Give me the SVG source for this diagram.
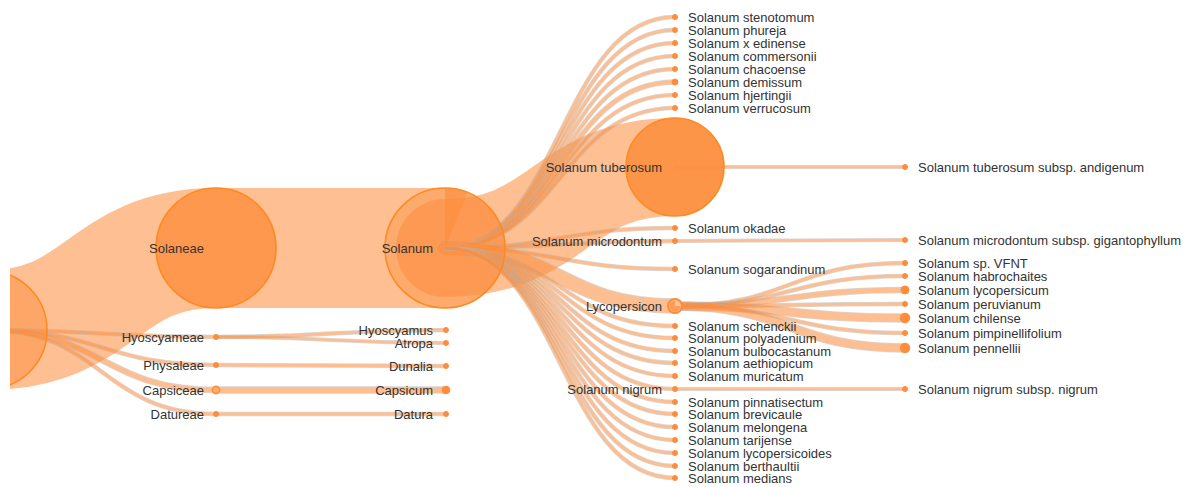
<svg xmlns="http://www.w3.org/2000/svg" width="1189" height="487" viewBox="0 0 1189 487">
<style>
.lk{opacity:0.56}
.lk path{fill:none;stroke-linecap:round}
.e{stroke:#b8b8b8}
.f{stroke:#fd8d3c}
.big{fill:#fd8d3c;stroke:#fd8a22;stroke-width:1.6}
.dot{fill:#fd8d3c;stroke:#fd8d3c;stroke-width:1}
text{font-family:"Liberation Sans",Arial,sans-serif;font-size:13px;fill:#333}
.l{text-anchor:end}
</style>
<defs><clipPath id="clip"><rect x="10" y="0" width="1179" height="487"/></clipPath></defs>
<rect width="1189" height="487" fill="#fff"/>
<g id="connectors" clip-path="url(#clip)">
<g class="lk"><path class="f" stroke-width="120" d="M-12,330 C102,330 102,248 216,248"/></g>
<g class="lk"><path class="e" stroke-width="4.5" d="M-12,330 C102,330 102,337 216,337"/><path class="f" stroke-width="3" d="M-12,330 C102,330 102,337 216,337"/></g>
<g class="lk"><path class="e" stroke-width="4.5" d="M-12,330 C102,330 102,365 216,365"/><path class="f" stroke-width="3" d="M-12,330 C102,330 102,365 216,365"/></g>
<g class="lk"><path class="e" stroke-width="6.5" d="M-12,330 C102,330 102,390 216,390"/><path class="f" stroke-width="5" d="M-12,330 C102,330 102,390 216,390"/></g>
<g class="lk"><path class="e" stroke-width="4.5" d="M-12,330 C102,330 102,414 216,414"/><path class="f" stroke-width="3" d="M-12,330 C102,330 102,414 216,414"/></g>
<g class="lk"><path class="f" stroke-width="120" d="M216,248 C330,248 330,248 445,248"/></g>
<g class="lk"><path class="e" stroke-width="4.5" d="M216,337 C331,337 331,330 446,330"/><path class="f" stroke-width="3" d="M216,337 C331,337 331,330 446,330"/></g>
<g class="lk"><path class="e" stroke-width="4" d="M216,337 C331,337 331,343 446,343"/><path class="f" stroke-width="2.5" d="M216,337 C331,337 331,343 446,343"/></g>
<g class="lk"><path class="e" stroke-width="4.5" d="M216,365 C331,365 331,366 446,366"/><path class="f" stroke-width="3" d="M216,365 C331,365 331,366 446,366"/></g>
<g class="lk"><path class="e" stroke-width="7.5" d="M216,390 C331,390 331,390 446,390"/><path class="f" stroke-width="6" d="M216,390 C331,390 331,390 446,390"/></g>
<g class="lk"><path class="e" stroke-width="4.5" d="M216,414 C331,414 331,414 446,414"/><path class="f" stroke-width="3" d="M216,414 C331,414 331,414 446,414"/></g>
<g class="lk"><path class="f" stroke-width="98" d="M445,248 C560,248 560,167 675,167"/></g>
<g class="lk"><path class="e" stroke-width="4.5" d="M445,248 C560,248 560,17 675,17"/><path class="f" stroke-width="3" d="M445,248 C560,248 560,17 675,17"/></g>
<g class="lk"><path class="e" stroke-width="4.5" d="M445,248 C560,248 560,30 675,30"/><path class="f" stroke-width="3" d="M445,248 C560,248 560,30 675,30"/></g>
<g class="lk"><path class="e" stroke-width="4.5" d="M445,248 C560,248 560,43 675,43"/><path class="f" stroke-width="3" d="M445,248 C560,248 560,43 675,43"/></g>
<g class="lk"><path class="e" stroke-width="4.5" d="M445,248 C560,248 560,56 675,56"/><path class="f" stroke-width="3" d="M445,248 C560,248 560,56 675,56"/></g>
<g class="lk"><path class="e" stroke-width="4.5" d="M445,248 C560,248 560,69 675,69"/><path class="f" stroke-width="3" d="M445,248 C560,248 560,69 675,69"/></g>
<g class="lk"><path class="e" stroke-width="5.5" d="M445,248 C560,248 560,82 675,82"/><path class="f" stroke-width="4" d="M445,248 C560,248 560,82 675,82"/></g>
<g class="lk"><path class="e" stroke-width="4.5" d="M445,248 C560,248 560,95 675,95"/><path class="f" stroke-width="3" d="M445,248 C560,248 560,95 675,95"/></g>
<g class="lk"><path class="e" stroke-width="4.5" d="M445,248 C560,248 560,108 675,108"/><path class="f" stroke-width="3" d="M445,248 C560,248 560,108 675,108"/></g>
<g class="lk"><path class="e" stroke-width="4.5" d="M445,248 C560,248 560,228 675,228"/><path class="f" stroke-width="3" d="M445,248 C560,248 560,228 675,228"/></g>
<g class="lk"><path class="e" stroke-width="4.5" d="M445,248 C560,248 560,241 675,241"/><path class="f" stroke-width="3" d="M445,248 C560,248 560,241 675,241"/></g>
<g class="lk"><path class="e" stroke-width="4.5" d="M445,248 C560,248 560,269 675,269"/><path class="f" stroke-width="3" d="M445,248 C560,248 560,269 675,269"/></g>
<g class="lk"><path class="e" stroke-width="15.5" d="M445,248 C560,248 560,306 675,306"/><path class="f" stroke-width="14" d="M445,248 C560,248 560,306 675,306"/></g>
<g class="lk"><path class="e" stroke-width="4.5" d="M445,248 C560,248 560,326 675,326"/><path class="f" stroke-width="3" d="M445,248 C560,248 560,326 675,326"/></g>
<g class="lk"><path class="e" stroke-width="4.5" d="M445,248 C560,248 560,338 675,338"/><path class="f" stroke-width="3" d="M445,248 C560,248 560,338 675,338"/></g>
<g class="lk"><path class="e" stroke-width="4.5" d="M445,248 C560,248 560,351 675,351"/><path class="f" stroke-width="3" d="M445,248 C560,248 560,351 675,351"/></g>
<g class="lk"><path class="e" stroke-width="4.5" d="M445,248 C560,248 560,363 675,363"/><path class="f" stroke-width="3" d="M445,248 C560,248 560,363 675,363"/></g>
<g class="lk"><path class="e" stroke-width="4.5" d="M445,248 C560,248 560,376 675,376"/><path class="f" stroke-width="3" d="M445,248 C560,248 560,376 675,376"/></g>
<g class="lk"><path class="e" stroke-width="4.5" d="M445,248 C560,248 560,389 675,389"/><path class="f" stroke-width="3" d="M445,248 C560,248 560,389 675,389"/></g>
<g class="lk"><path class="e" stroke-width="4.5" d="M445,248 C560,248 560,402 675,402"/><path class="f" stroke-width="3" d="M445,248 C560,248 560,402 675,402"/></g>
<g class="lk"><path class="e" stroke-width="4.5" d="M445,248 C560,248 560,414 675,414"/><path class="f" stroke-width="3" d="M445,248 C560,248 560,414 675,414"/></g>
<g class="lk"><path class="e" stroke-width="4.5" d="M445,248 C560,248 560,427 675,427"/><path class="f" stroke-width="3" d="M445,248 C560,248 560,427 675,427"/></g>
<g class="lk"><path class="e" stroke-width="4.5" d="M445,248 C560,248 560,440 675,440"/><path class="f" stroke-width="3" d="M445,248 C560,248 560,440 675,440"/></g>
<g class="lk"><path class="e" stroke-width="4.5" d="M445,248 C560,248 560,453 675,453"/><path class="f" stroke-width="3" d="M445,248 C560,248 560,453 675,453"/></g>
<g class="lk"><path class="e" stroke-width="4.5" d="M445,248 C560,248 560,466 675,466"/><path class="f" stroke-width="3" d="M445,248 C560,248 560,466 675,466"/></g>
<g class="lk"><path class="e" stroke-width="4.5" d="M445,248 C560,248 560,478 675,478"/><path class="f" stroke-width="3" d="M445,248 C560,248 560,478 675,478"/></g>
<g class="lk"><path class="e" stroke-width="4" d="M675,167 C790,167 790,167 905,167"/><path class="f" stroke-width="2.5" d="M675,167 C790,167 790,167 905,167"/></g>
<g class="lk"><path class="e" stroke-width="4" d="M675,241 C790,241 790,240 905,240"/><path class="f" stroke-width="2.5" d="M675,241 C790,241 790,240 905,240"/></g>
<g class="lk"><path class="e" stroke-width="4.5" d="M675,306 C790,306 790,263 905,263"/><path class="f" stroke-width="3" d="M675,306 C790,306 790,263 905,263"/></g>
<g class="lk"><path class="e" stroke-width="4.5" d="M675,306 C790,306 790,276 905,276"/><path class="f" stroke-width="3" d="M675,306 C790,306 790,276 905,276"/></g>
<g class="lk"><path class="e" stroke-width="6.5" d="M675,306 C790,306 790,290 905,290"/><path class="f" stroke-width="5" d="M675,306 C790,306 790,290 905,290"/></g>
<g class="lk"><path class="e" stroke-width="4.5" d="M675,306 C790,306 790,304 905,304"/><path class="f" stroke-width="3" d="M675,306 C790,306 790,304 905,304"/></g>
<g class="lk"><path class="e" stroke-width="9.5" d="M675,306 C790,306 790,318 905,318"/><path class="f" stroke-width="8" d="M675,306 C790,306 790,318 905,318"/></g>
<g class="lk"><path class="e" stroke-width="4.5" d="M675,306 C790,306 790,333 905,333"/><path class="f" stroke-width="3" d="M675,306 C790,306 790,333 905,333"/></g>
<g class="lk"><path class="e" stroke-width="9.5" d="M675,306 C790,306 790,348 905,348"/><path class="f" stroke-width="8" d="M675,306 C790,306 790,348 905,348"/></g>
<g class="lk"><path class="e" stroke-width="4" d="M675,389 C790,389 790,389 905,389"/><path class="f" stroke-width="2.5" d="M675,389 C790,389 790,389 905,389"/></g>
</g>
<g id="root" clip-path="url(#clip)"><circle class="big" cx="-12" cy="330" r="59" fill-opacity="0.5"/></g>
<g id="solaneae"><circle class="big" cx="216" cy="248" r="60" fill-opacity="0.5"/><text class="l" x="204" y="252.5">Solaneae</text></g>
<g id="hyoscyameae"><circle class="dot" cx="216" cy="337" r="2.5"/><text class="l" x="204" y="341.5">Hyoscyameae</text></g>
<g id="physaleae"><circle class="dot" cx="216" cy="365" r="2.5"/><text class="l" x="204" y="369.5">Physaleae</text></g>
<g id="capsiceae"><circle cx="216" cy="390" r="3.6" fill="#fdb06e" stroke="#fd8d3c" stroke-width="1.6"/><text class="l" x="204" y="394.5">Capsiceae</text></g>
<g id="datureae"><circle class="dot" cx="216" cy="414" r="2.5"/><text class="l" x="204" y="418.5">Datureae</text></g>
<g id="solanum"><circle class="big" cx="445" cy="248" r="60" fill-opacity="0.42"/><path d="M445,248 L445,188 A60,60 0 0,1 467.5,192.4 Z" fill="#fd8d3c" fill-opacity="0.6"/><text class="l" x="433" y="252.5">Solanum</text></g>
<g id="hyoscyamus"><circle class="dot" cx="446" cy="330" r="2.5"/><text class="l" x="433" y="334.5">Hyoscyamus</text></g>
<g id="atropa"><circle class="dot" cx="446" cy="343" r="2.5"/><text class="l" x="433" y="347.5">Atropa</text></g>
<g id="dunalia"><circle class="dot" cx="446" cy="366" r="2.5"/><text class="l" x="433" y="370.5">Dunalia</text></g>
<g id="capsicum"><circle class="dot" cx="446" cy="390" r="3.8"/><text class="l" x="433" y="394.5">Capsicum</text></g>
<g id="datura"><circle class="dot" cx="446" cy="414" r="2.5"/><text class="l" x="433" y="418.5">Datura</text></g>
<g id="s-stenotomum"><circle class="dot" cx="675" cy="17" r="2.5"/><text x="688" y="21.5">Solanum stenotomum</text></g>
<g id="s-phureja"><circle class="dot" cx="675" cy="30" r="2.5"/><text x="688" y="34.5">Solanum phureja</text></g>
<g id="s-edinense"><circle class="dot" cx="675" cy="43" r="2.5"/><text x="688" y="47.5">Solanum x edinense</text></g>
<g id="s-commersonii"><circle class="dot" cx="675" cy="56" r="2.5"/><text x="688" y="60.5">Solanum commersonii</text></g>
<g id="s-chacoense"><circle class="dot" cx="675" cy="69" r="2.5"/><text x="688" y="73.5">Solanum chacoense</text></g>
<g id="s-demissum"><circle class="dot" cx="675" cy="82" r="3"/><text x="688" y="86.5">Solanum demissum</text></g>
<g id="s-hjertingii"><circle class="dot" cx="675" cy="95" r="2.5"/><text x="688" y="99.5">Solanum hjertingii</text></g>
<g id="s-verrucosum"><circle class="dot" cx="675" cy="108" r="2.5"/><text x="688" y="112.5">Solanum verrucosum</text></g>
<g id="s-tuberosum"><circle class="big" cx="675" cy="167" r="49" fill-opacity="0.85"/><text class="l" x="662" y="171.5">Solanum tuberosum</text></g>
<g id="s-okadae"><circle class="dot" cx="675" cy="228" r="2.5"/><text x="688" y="232.5">Solanum okadae</text></g>
<g id="s-microdontum"><circle class="dot" cx="675" cy="241" r="2.5"/><text class="l" x="662" y="245.5">Solanum microdontum</text></g>
<g id="s-sogarandinum"><circle class="dot" cx="675" cy="269" r="2.5"/><text x="688" y="273.5">Solanum sogarandinum</text></g>
<g id="lycopersicon"><circle cx="675" cy="306" r="7" fill="#fdc597" stroke="#fd8d3c" stroke-width="2"/><path d="M675,306 L675,300.5 A5.5,5.5 0 1,0 680.5,306 Z" fill="#fd8d3c" fill-opacity="0.75"/><text class="l" x="662" y="310.5">Lycopersicon</text></g>
<g id="s-schenckii"><circle class="dot" cx="675" cy="326" r="2.5"/><text x="688" y="330.5">Solanum schenckii</text></g>
<g id="s-polyadenium"><circle class="dot" cx="675" cy="338" r="2.5"/><text x="688" y="342.5">Solanum polyadenium</text></g>
<g id="s-bulbocastanum"><circle class="dot" cx="675" cy="351" r="2.5"/><text x="688" y="355.5">Solanum bulbocastanum</text></g>
<g id="s-aethiopicum"><circle class="dot" cx="675" cy="363" r="2.5"/><text x="688" y="367.5">Solanum aethiopicum</text></g>
<g id="s-muricatum"><circle class="dot" cx="675" cy="376" r="2.5"/><text x="688" y="380.5">Solanum muricatum</text></g>
<g id="s-nigrum"><circle class="dot" cx="675" cy="389" r="2.5"/><text class="l" x="662" y="393.5">Solanum nigrum</text></g>
<g id="s-pinnatisectum"><circle class="dot" cx="675" cy="402" r="2.5"/><text x="688" y="406.5">Solanum pinnatisectum</text></g>
<g id="s-brevicaule"><circle class="dot" cx="675" cy="414" r="2.5"/><text x="688" y="418.5">Solanum brevicaule</text></g>
<g id="s-melongena"><circle class="dot" cx="675" cy="427" r="2.5"/><text x="688" y="431.5">Solanum melongena</text></g>
<g id="s-tarijense"><circle class="dot" cx="675" cy="440" r="2.5"/><text x="688" y="444.5">Solanum tarijense</text></g>
<g id="s-lycopersicoides"><circle class="dot" cx="675" cy="453" r="2.5"/><text x="688" y="457.5">Solanum lycopersicoides</text></g>
<g id="s-berthaultii"><circle class="dot" cx="675" cy="466" r="2.5"/><text x="688" y="470.5">Solanum berthaultii</text></g>
<g id="s-medians"><circle class="dot" cx="675" cy="478" r="2.5"/><text x="688" y="482.5">Solanum medians</text></g>
<g id="s-andigenum"><circle class="dot" cx="905" cy="167" r="2.5"/><text x="918" y="171.5">Solanum tuberosum subsp. andigenum</text></g>
<g id="s-gigantophyllum"><circle class="dot" cx="905" cy="240" r="2.5"/><text x="918" y="244.5">Solanum microdontum subsp. gigantophyllum</text></g>
<g id="s-vfnt"><circle class="dot" cx="905" cy="263" r="2.5"/><text x="918" y="267.5">Solanum sp. VFNT</text></g>
<g id="s-habrochaites"><circle class="dot" cx="905" cy="276" r="2.5"/><text x="918" y="280.5">Solanum habrochaites</text></g>
<g id="s-lycopersicum"><circle class="dot" cx="905" cy="290" r="4"/><text x="918" y="294.5">Solanum lycopersicum</text></g>
<g id="s-peruvianum"><circle class="dot" cx="905" cy="304" r="2.5"/><text x="918" y="308.5">Solanum peruvianum</text></g>
<g id="s-chilense"><circle class="dot" cx="905" cy="318" r="4.8"/><text x="918" y="322.5">Solanum chilense</text></g>
<g id="s-pimpinellifolium"><circle class="dot" cx="905" cy="333" r="2.5"/><text x="918" y="337.5">Solanum pimpinellifolium</text></g>
<g id="s-pennellii"><circle class="dot" cx="905" cy="348" r="4.8"/><text x="918" y="352.5">Solanum pennellii</text></g>
<g id="s-nigrum-nigrum"><circle class="dot" cx="905" cy="389" r="2.5"/><text x="918" y="393.5">Solanum nigrum subsp. nigrum</text></g>
</svg>
